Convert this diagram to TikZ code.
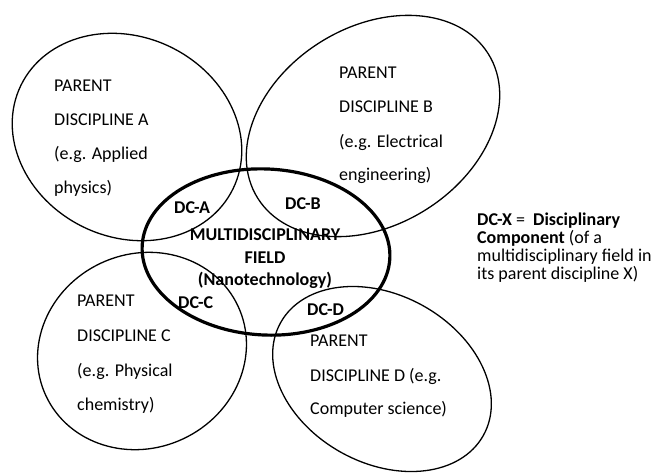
\documentclass[tikz,border=0pt]{standalone}
\usepackage{fontspec}
\setmainfont{Carlito}
\begin{document}
\begin{tikzpicture}[x=1pt,y=-1pt,
  thinring/.style={draw=black,line width=1.3pt},
  thickring/.style={draw=black,line width=3.2pt},
  txt/.style={anchor=base west,inner sep=0pt,font=\fontsize{18}{20}\selectfont},
  btxt/.style={anchor=base west,inner sep=0pt,font=\fontsize{18}{20}\selectfont\bfseries},
  ctxt/.style={anchor=base,inner sep=0pt,font=\fontsize{18}{20}\selectfont\bfseries}]
\useasboundingbox (0,0) rectangle (659,475);
% parent discipline rings
\draw[thinring, rotate around={-26:(127,137)}] (127,137) ellipse [x radius=118, y radius=100];
\draw[thinring, rotate around={32:(373,126)}] (373,126) ellipse [x radius=136, y radius=99];
\draw[thinring, rotate around={25:(142,351)}] (142,351) ellipse [x radius=106, y radius=97];
\draw[thinring, rotate around={-29:(382,379)}] (382,379) ellipse [x radius=116, y radius=84];
% multidisciplinary field
\draw[thickring, rotate around={-3:(266,252)}] (266,252) ellipse [x radius=124, y radius=83];
% A
\node[txt] (a1) at (54,91) {PARENT};
\node[txt] (a2) at (54,125) {DISCIPLINE A};
\node[txt] (a3) at (54,159) {(e.g. Applied};
\node[txt] (a4) at (54,193) {physics)};
% B
\node[txt] (b1) at (339,78) {PARENT};
\node[txt] (b2) at (339,112) {DISCIPLINE B};
\node[txt] (b3) at (339,147) {(e.g. Electrical};
\node[txt] (b4) at (339,180) {engineering)};
% C
\node[txt] (c1) at (77,306) {PARENT};
\node[txt] (c2) at (77,341) {DISCIPLINE C};
\node[txt] (c3) at (77,376) {(e.g. Physical};
\node[txt] (c4) at (77,410) {chemistry)};
% D
\node[txt] (d1) at (310,346) {PARENT};
\node[txt] (d2) at (310,381) {DISCIPLINE D (e.g.};
\node[txt] (d3) at (310,414) {Computer science)};
% DC labels
\node[btxt] (dca) at (174,213) {DC-A};
\node[btxt] (dcb) at (285,209) {DC-B};
\node[btxt] (dcc) at (178,308) {DC-C};
\node[btxt] (dcd) at (307,315) {DC-D};
% centre
\node[ctxt] (m1) at (265,240) {MULTIDISCIPLINARY};
\node[ctxt] (m2) at (265,263) {FIELD};
\node[ctxt] (m3) at (265,285) {(Nanotechnology)};
% legend
\node[txt] (l1) at (477,225) {\textbf{DC-X} =\ \ \textbf{Disciplinary}};
\node[txt] (l2) at (477,243) {\textbf{Component} (of a};
\node[txt] (l3) at (477,261) {multidisciplinary field in};
\node[txt] (l4) at (477,279) {its parent discipline X)};
\end{tikzpicture}
\end{document}
